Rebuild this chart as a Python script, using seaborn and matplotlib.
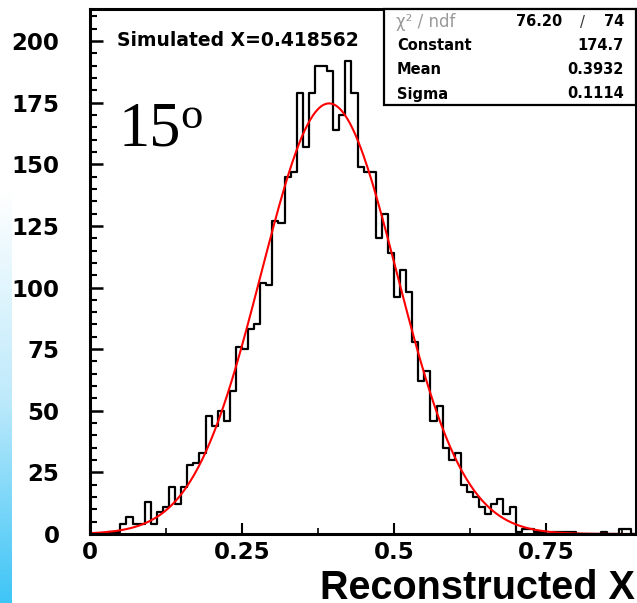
import numpy as np
import pandas as pd
import matplotlib
matplotlib.use("Agg")
import matplotlib.pyplot as plt
from matplotlib.colors import LinearSegmentedColormap
from matplotlib.patches import Rectangle
import seaborn as sns

# ---- data ----
bin_lo = 0.0
bin_width = 0.01
counts = [0, 0, 0, 1, 1, 4, 7, 4, 4, 13,
          4, 9, 11, 19, 12, 19, 28, 29, 33, 48,
          44, 50, 46, 58, 76, 75, 83, 85, 102, 101,
          127, 126, 145, 147, 179, 157, 179, 190, 190, 188,
          164, 170, 192, 179, 149, 147, 147, 120, 130, 114,
          96, 107, 98, 78, 62, 66, 46, 52, 35, 30,
          33, 20, 17, 15, 11, 8, 12, 14, 8, 11,
          1, 2, 2, 1, 1, 0, 1, 1, 1, 1,
          0, 0, 0, 0, 1, 0, 0, 2, 2, 0]
fit_constant = 174.7
fit_mean = 0.3932
fit_sigma = 0.1114
chi2 = "76.20"
ndf = "74"
x_ticks = [0, 0.25, 0.5, 0.75]
x_ticklabels = ["0", "0.25", "0.5", "0.75"]
y_ticks = [0, 25, 50, 75, 100, 125, 150, 175, 200]
sim_label = "Simulated X=0.418562"
angle_label = "15"
x_label = "Reconstructed X"

nbins = len(counts)
centers = bin_lo + bin_width * (np.arange(nbins) + 0.5)
df = pd.DataFrame({"x": centers, "w": counts})

xfit = np.linspace(0.0, 0.898, 400)
fit_df = pd.DataFrame({"x": xfit,
                       "y": fit_constant * np.exp(-0.5 * ((xfit - fit_mean) / fit_sigma) ** 2)})

# ---- figure ----
sns.set_style("ticks")
plt.rcParams["font.family"] = ["DejaVu Sans"]
for k in ["text.color", "axes.labelcolor", "xtick.color", "ytick.color", "axes.edgecolor"]:
    plt.rcParams[k] = "black"
W, H = 637, 603
fig = plt.figure(figsize=(W / 100, H / 100), dpi=100)

def fx(px):
    return px / W

def fy(py):
    return 1 - py / H

ax = fig.add_axes([fx(90), fy(534), (636 - 90) / W, (534 - 9) / H])

sns.histplot(data=df, x="x", weights="w", bins=nbins,
             binrange=(bin_lo, bin_lo + bin_width * nbins),
             element="step", fill=False, color="black", linewidth=1.6, ax=ax)
sns.lineplot(data=fit_df, x="x", y="y", color="red", linewidth=1.5, ax=ax)

ax.set_xlim(0, 0.898)
ax.set_ylim(0, 213)
ax.set_xticks(x_ticks)
ax.set_xticklabels(x_ticklabels)
ax.set_xticks(np.arange(0, 0.9, 0.125), minor=True)
ax.set_yticks(y_ticks)
ax.set_yticks(np.arange(0, 213, 5), minor=True)
ax.set_ylabel("")
ax.set_xlabel(x_label, fontsize=28.5, fontweight="bold", family="Liberation Sans")
ax.xaxis.set_label_coords((635 - 90) / 546, (534 - 599) / 525)
ax.xaxis.label.set_ha("right")
ax.xaxis.label.set_va("baseline")

ax.tick_params(axis="y", which="major", direction="in", length=9.5, width=1.8,
               labelsize=16.5, pad=22)
ax.tick_params(axis="y", which="minor", direction="in", length=5, width=1.5)
ax.tick_params(axis="x", which="major", direction="in", length=8, width=1.5,
               labelsize=16.5, pad=5)
ax.tick_params(axis="x", which="minor", direction="in", length=4.3, width=1.2)
for lab in ax.get_xticklabels() + ax.get_yticklabels():
    lab.set_fontweight("bold")
for s in ax.spines.values():
    s.set_visible(True)
    s.set_linewidth(2.2)
    s.set_color("black")

# ---- annotations ----
fig.text(fx(117), fy(40), sim_label, fontsize=13.5, fontweight="bold",
         ha="left", va="center")
fig.text(fx(118), fy(146), angle_label, fontsize=45, family="Liberation Serif",
         ha="left", va="baseline")
fig.text(fx(180), fy(128), "o", fontsize=32, family="Liberation Serif",
         ha="left", va="baseline")

# stats box
box = Rectangle((fx(384), fy(105)), fx(636) - fx(384), fy(9) - fy(105),
                transform=fig.transFigure, facecolor="white", edgecolor="black",
                linewidth=1.6, zorder=5)
fig.patches.append(box)
rows_y = [22, 45, 70, 94]
fig.text(fx(396), fy(rows_y[0]), "χ² / ndf", fontsize=12, color="#9a9a9a",
         ha="left", va="center", zorder=6)
fig.text(fx(562), fy(rows_y[0]), chi2, fontsize=10.5, fontweight="bold",
         ha="right", va="center", zorder=6)
fig.text(fx(582), fy(rows_y[0]), "/", fontsize=10.5, color="#333333",
         ha="center", va="center", zorder=6)
fig.text(fx(624), fy(rows_y[0]), ndf, fontsize=10.5, fontweight="bold",
         ha="right", va="center", zorder=6)
for name, val, yy in [("Constant", f"{fit_constant:.1f}", rows_y[1]),
                      ("Mean", f"{fit_mean:.4f}", rows_y[2]),
                      ("Sigma", f"{fit_sigma:.4f}", rows_y[3])]:
    fig.text(fx(397), fy(yy), name, fontsize=10.5, fontweight="bold",
             ha="left", va="center", zorder=6)
    fig.text(fx(624), fy(yy), val, fontsize=10.5, fontweight="bold",
             ha="right", va="center", zorder=6)

# left gradient strip
sax = fig.add_axes([0, 0, 12 / W, (603 - 190) / H])
grad = np.linspace(0, 1, 256).reshape(-1, 1)
cmap = LinearSegmentedColormap.from_list("strip", ["#ffffff", "#bfeafb", "#3ec5f6"])
sax.imshow(grad, aspect="auto", cmap=cmap, origin="upper")
sax.set_axis_off()

fig.savefig("out.png", dpi=100)
